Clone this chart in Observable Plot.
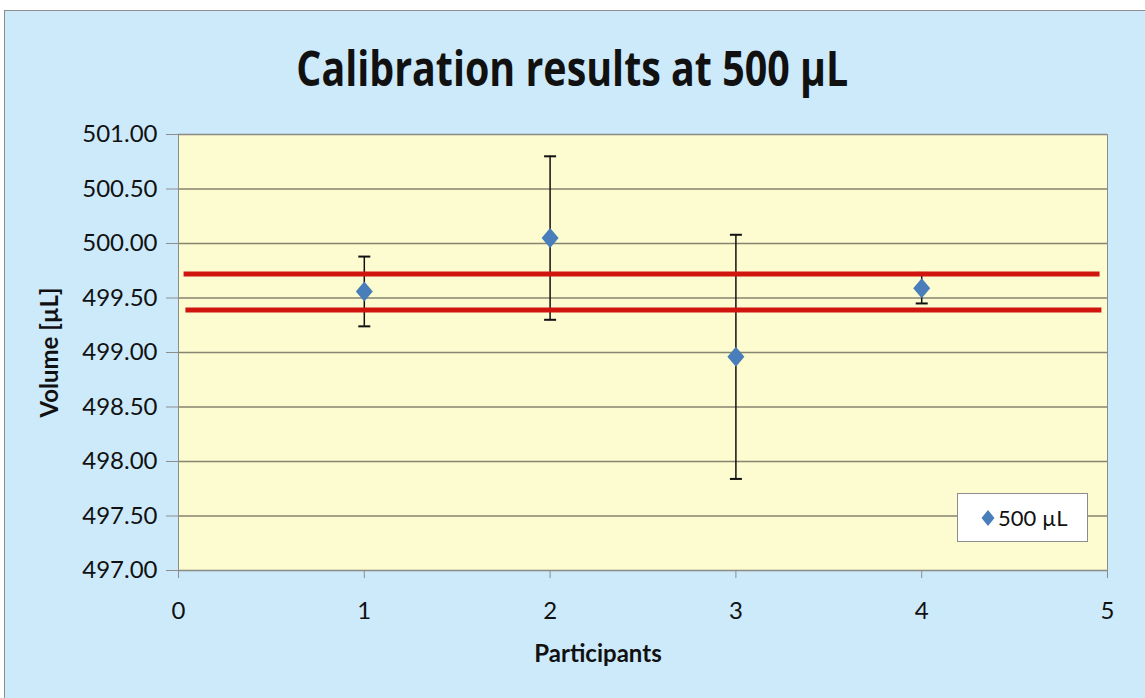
<!DOCTYPE html>
<html><head><meta charset="utf-8">
<script src="https://cdn.jsdelivr.net/npm/d3@7"></script>
<script src="https://cdn.jsdelivr.net/npm/@observablehq/plot@0.6"></script>
<style>
html,body{margin:0;padding:0;background:#fff;}
#wrap{position:relative;width:1145px;height:698px;overflow:hidden;background:#fff;}
#panel{position:absolute;left:4px;top:10px;width:1150px;height:700px;background:#cdeafb;border:1px solid #8c8c8c;box-sizing:border-box;}
#title{position:absolute;left:0;top:43px;width:1145px;text-align:center;font-family:"Open Sans",sans-serif;font-weight:bold;font-size:49px;line-height:49px;color:#111;white-space:nowrap;}
#title span{display:inline-block;transform-origin:50% 50%;}
#chart{position:absolute;left:0;top:100px;}
#legend{position:absolute;left:957px;top:493px;width:131px;height:49px;background:#fff;border:1px solid #8c8c8c;box-sizing:border-box;font-family:Lato,sans-serif;font-size:22px;color:#111;}
#legend .sw{position:absolute;left:22px;top:14px;width:16px;height:20px;}
#legend .lab{position:absolute;left:40px;top:0;line-height:47px;}
</style></head>
<body><div id="wrap"><div id="panel"></div><div id="title"><span>Calibration results at 500 µL</span></div><div id="chart"></div>
<div id="legend"><svg class="sw" viewBox="-8 -10 16 20"><path d="M0,-8L6.5,0L0,8L-6.5,0Z" fill="#4a7ebb"/></svg><span class="lab">500 µL</span></div></div>
<script>
const participants = [1, 2, 3, 4];
const volumes = [499.56, 500.05, 498.96, 499.59];
const errors = [0.32, 0.75, 1.12, 0.14];
const limitValues = [499.72, 499.39];
const limitStart = [0.03, 0.04];
const limitEnd = [4.96, 4.97];
const xTicks = [0, 1, 2, 3, 4, 5];
const yTicks = [497.0, 497.5, 498.0, 498.5, 499.0, 499.5, 500.0, 500.5, 501.0];
const seriesName = "500 µL";

const data = participants.map((p, i) => ({p, v: volumes[i], lo: volumes[i] - errors[i], hi: volumes[i] + errors[i]}));
const limits = limitValues.map((y, i) => ({y, x1: limitStart[i], x2: limitEnd[i]}));

const diamond = {draw(ctx, size) { const r = Math.sqrt(size / Math.PI); ctx.moveTo(0, -r); ctx.lineTo(r * 0.85, 0); ctx.lineTo(0, r); ctx.lineTo(-r * 0.85, 0); ctx.closePath(); }};
const cap = {draw(ctx, size) { const r = Math.sqrt(size / Math.PI); ctx.moveTo(-r, 0); ctx.lineTo(r, 0); }};

const chart = Plot.plot({
  width: 1145, height: 598,
  marginTop: 34, marginBottom: 128, marginLeft: 178, marginRight: 38,
  style: {background: "transparent", fontFamily: "Lato, sans-serif", color: "#111"},
  x: {domain: [0, 5]},
  y: {domain: [497, 501]},
  marks: [
    Plot.frame({fill: "#fdfbd0", stroke: null}),
    Plot.gridY({ticks: yTicks, stroke: "#858570", strokeOpacity: 1, strokeWidth: 1.5}),
    Plot.frame({stroke: "#8c8c8c", strokeWidth: 1}),
    Plot.axisY({ticks: yTicks, tickFormat: d3.format(".2f"), tickSize: 12, tickPadding: 9, fontSize: 24, stroke: "#8c8c8c", fill: "#111", label: null}),
    Plot.axisX({ticks: xTicks, tickFormat: d3.format("d"), tickSize: 8, tickPadding: 23, fontSize: 24, stroke: "#8c8c8c", fill: "#111", label: null}),
    Plot.ruleX(data, {x: "p", y1: "lo", y2: "hi", stroke: "#111", strokeWidth: 1.5}),
    Plot.dot(data, {x: "p", y: "hi", symbol: cap, r: 6, stroke: "#111", strokeWidth: 2}),
    Plot.dot(data, {x: "p", y: "lo", symbol: cap, r: 6, stroke: "#111", strokeWidth: 2}),
    Plot.ruleY(limits, {y: "y", x1: "x1", x2: "x2", stroke: "#d0150f", strokeWidth: 5}),
    Plot.dot(data, {x: "p", y: "v", symbol: diamond, r: 10, fill: "#4a7ebb", stroke: null}),
    Plot.text(["Volume [µL]"], {frameAnchor: "left", textAnchor: "middle", lineAnchor: "middle", dx: -128, rotate: -90, fontSize: 24, fontWeight: "bold", fill: "#111"}),
    Plot.text(["Participants"], {frameAnchor: "bottom", textAnchor: "middle", lineAnchor: "middle", dx: -45, dy: 84, fontSize: 24, fontWeight: "bold", fill: "#111"})
  ]
});
document.getElementById("chart").appendChild(chart);

const span = document.querySelector("#title span");
const w = span.getBoundingClientRect().width;
span.style.transform = `scaleX(${552 / w})`;
</script>
</body></html>
